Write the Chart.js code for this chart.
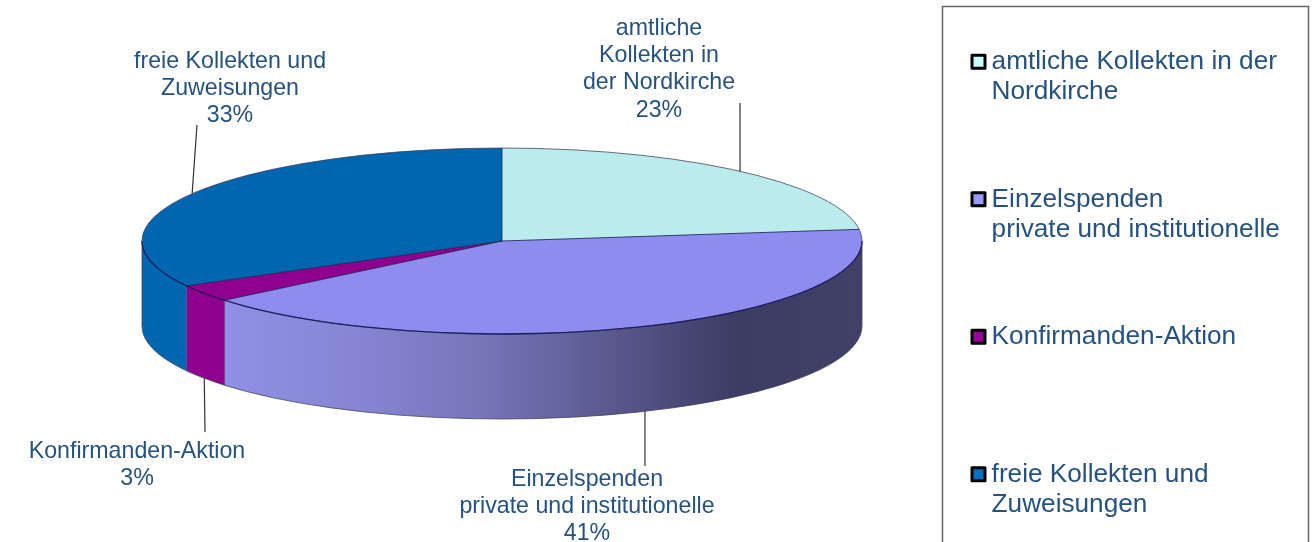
<!DOCTYPE html>
<html lang="de">
<head>
<meta charset="utf-8">
<title>Kollekten</title>
<style>html,body{margin:0;padding:0;background:#fff}canvas{display:block}</style>
<script src="https://cdn.jsdelivr.net/npm/chart.js@4"></script>
</head>
<body>
<canvas id="c" width="1313" height="542"></canvas>
<script>
const categories = ['amtliche Kollekten in der Nordkirche', 'Einzelspenden private und institutionelle', 'Konfirmanden-Aktion', 'freie Kollekten und Zuweisungen'];
const values = [23, 41, 3, 33];
const legendLines = [['amtliche Kollekten in der', 'Nordkirche'], ['Einzelspenden', 'private und institutionelle'], ['Konfirmanden-Aktion', ''], ['freie Kollekten und', 'Zuweisungen']];
const sliceLabelLines = [['amtliche', 'Kollekten in', 'der Nordkirche'], ['Einzelspenden', 'private und institutionelle'], ['Konfirmanden-Aktion'], ['freie Kollekten und', 'Zuweisungen']];
const topColors = ['#BBECEC', '#8E8CEE', '#8F008F', '#0066B0'];
const legendColors = ['#CCFFFF', '#9999FF', '#990099', '#0070C0'];
const sideStops = [['#BBECEC'], ['#9090E6', '#8686D4', '#7676BA', '#5A5A90', '#3C3C64', '#404068'], ['#8F008F'], ['#0066B0']];

const TEXT = '#255280';
const FONT = '"Liberation Sans", Arial, sans-serif';
const pie = {cx: 502, cy: 241, rx: 360, ry: 93, depth: 85};
const labelPlacement = [
  {x: 659, y: 28.5, end: [740, 103]},
  {x: 587, y: 479.5, end: [645, 466]},
  {x: 137, y: 451.5, end: [205, 432]},
  {x: 230, y: 61.5, end: [197, 125]}
];
const legendPlacement = {x: 978.5, y: 48.7, padding: 77.5};
const frame = {x: 942.5, y: 6.5, w: 366, h: 560};

const ptX = a => pie.cx + pie.rx * Math.cos(a);
const ptY = a => pie.cy + pie.ry * Math.sin(a);

const pie3d = {
  id: 'pie3d',
  afterLayout(chart) {
    const l = chart.legend;
    l.left = legendPlacement.x - legendPlacement.padding;
    l.right = 1313;
    l.top = legendPlacement.y - legendPlacement.padding;
    l.bottom = 3000;
  },
  beforeDatasetsDraw(chart) {
    const ctx = chart.ctx;
    const arcs = chart.getDatasetMeta(0).data;
    // walls of the disc, from each arc's own angles
    arcs.forEach((arc, i) => {
      const lo = Math.max(arc.startAngle, 0), hi = Math.min(arc.endAngle, Math.PI);
      if (hi <= lo) return;
      const stops = sideStops[i];
      let fill = stops[0];
      if (stops.length > 1) {
        fill = ctx.createLinearGradient(ptX(hi), 0, ptX(lo), 0);
        stops.forEach((c, k) => fill.addColorStop(k / (stops.length - 1), c));
      }
      ctx.beginPath();
      ctx.ellipse(pie.cx, pie.cy, pie.rx, pie.ry, 0, lo, hi);
      ctx.ellipse(pie.cx, pie.cy + pie.depth, pie.rx, pie.ry, 0, hi, lo, true);
      ctx.closePath();
      ctx.fillStyle = fill;
      ctx.fill();
    });
    // the library draws the arcs inside this squashed space
    const a0 = arcs[0];
    ctx.save();
    ctx.translate(pie.cx, pie.cy);
    ctx.scale(pie.rx / a0.outerRadius, pie.ry / a0.outerRadius);
    ctx.translate(-a0.x, -a0.y);
  },
  afterDatasetsDraw(chart) {
    const ctx = chart.ctx;
    ctx.restore();
    const arcs = chart.getDatasetMeta(0).data;
    ctx.save();
    // outlines
    ctx.lineWidth = 1;
    ctx.strokeStyle = 'rgba(20,30,80,0.8)';
    arcs.forEach(arc => {
      ctx.beginPath();
      ctx.moveTo(pie.cx, pie.cy);
      ctx.lineTo(ptX(arc.startAngle), ptY(arc.startAngle));
      ctx.stroke();
      const a = arc.startAngle;
      if (a > 0 && a < Math.PI) {
        ctx.strokeStyle = 'rgba(20,30,80,0.35)';
        ctx.beginPath();
        ctx.moveTo(ptX(a), ptY(a));
        ctx.lineTo(ptX(a), ptY(a) + pie.depth);
        ctx.stroke();
        ctx.strokeStyle = 'rgba(20,30,80,0.8)';
      }
    });
    ctx.strokeStyle = 'rgba(60,60,90,0.75)';
    ctx.beginPath();
    ctx.ellipse(pie.cx, pie.cy, pie.rx, pie.ry, 0, Math.PI, 3 * Math.PI);
    ctx.stroke();
    ctx.strokeStyle = 'rgba(20,20,90,0.85)';
    ctx.lineWidth = 1.3;
    ctx.beginPath();
    ctx.ellipse(pie.cx, pie.cy, pie.rx, pie.ry, 0, 0, Math.PI);
    ctx.stroke();
    ctx.lineWidth = 1;
    ctx.strokeStyle = 'rgba(60,60,90,0.75)';
    ctx.beginPath();
    ctx.ellipse(pie.cx, pie.cy + pie.depth, pie.rx, pie.ry, 0, 0, Math.PI);
    ctx.moveTo(pie.cx - pie.rx, pie.cy);
    ctx.lineTo(pie.cx - pie.rx, pie.cy + pie.depth);
    ctx.moveTo(pie.cx + pie.rx, pie.cy);
    ctx.lineTo(pie.cx + pie.rx, pie.cy + pie.depth);
    ctx.stroke();
    // leader lines and slice labels
    const total = values.reduce((s, v) => s + v, 0);
    ctx.font = '23.2px ' + FONT;
    ctx.textAlign = 'center';
    ctx.textBaseline = 'middle';
    arcs.forEach((arc, i) => {
      const mid = (arc.startAngle + arc.endAngle) / 2;
      const front = Math.sin(mid) > 0;
      const p = labelPlacement[i];
      ctx.strokeStyle = '#333';
      ctx.lineWidth = 1.2;
      ctx.beginPath();
      ctx.moveTo(ptX(mid), ptY(mid) + (front ? pie.depth : 0));
      ctx.lineTo(p.end[0], p.end[1]);
      ctx.stroke();
      ctx.fillStyle = TEXT;
      const lines = sliceLabelLines[i].concat(Math.round(values[i] / total * 100) + '%');
      lines.forEach((t, k) => ctx.fillText(t, p.x, p.y + k * 27.3));
    });
    // legend frame
    ctx.strokeStyle = '#666';
    ctx.lineWidth = 1.5;
    ctx.strokeRect(frame.x, frame.y, frame.w, frame.h);
    ctx.restore();
  }
};

new Chart(document.getElementById('c'), {
  type: 'pie',
  data: {
    labels: categories,
    datasets: [{data: values, backgroundColor: topColors, borderWidth: 0, clip: false, hoverOffset: 0}]
  },
  plugins: [pie3d],
  options: {
    responsive: false,
    animation: false,
    events: [],
    plugins: {
      tooltip: {enabled: false},
      legend: {
        display: true,
        position: 'right',
        align: 'start',
        labels: {
          usePointStyle: true,
          boxWidth: 0.01,
          boxHeight: 13,
          padding: legendPlacement.padding,
          color: TEXT,
          font: {family: FONT, size: 26.2, lineHeight: 1.145},
          generateLabels: () => legendLines.map((text, i) => ({
            text, index: i, datasetIndex: 0, hidden: false,
            fillStyle: legendColors[i], strokeStyle: '#000', lineWidth: 3,
            lineJoin: 'round', pointStyle: 'rect', fontColor: TEXT
          }))
        }
      }
    }
  }
});
</script>
</body>
</html>
